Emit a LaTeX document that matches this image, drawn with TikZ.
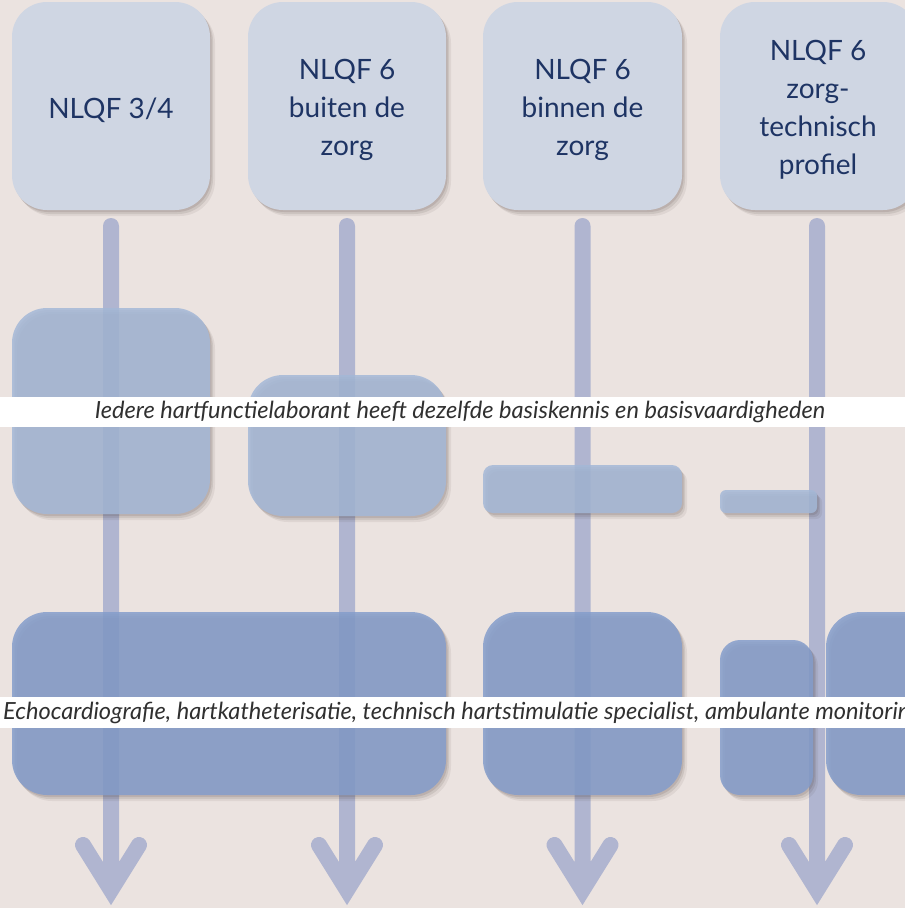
\documentclass[tikz,border=0pt]{standalone}
\usepackage{fontspec}
\setmainfont{Lato}
\usetikzlibrary{shadows,calc}
\definecolor{bg}{HTML}{EBE3E0}
\definecolor{topc}{HTML}{CFD6E3}
\definecolor{midc}{RGB}{164,184,215}
\definecolor{lowc}{RGB}{132,157,203}
\definecolor{arrc}{RGB}{176,181,208}
\definecolor{navy}{HTML}{1E3464}
\definecolor{bandtextc}{HTML}{303030}
\definecolor{shadowc}{HTML}{3A2A25}
\begin{document}
\begin{tikzpicture}[x=1pt,y=-1pt,
  softshadow/.style={
    drop shadow={shadow xshift=1.5pt,shadow yshift=-2pt,opacity=.12,fill=shadowc},
    drop shadow={shadow xshift=3pt,shadow yshift=-4pt,opacity=.10,fill=shadowc},
    drop shadow={shadow xshift=5pt,shadow yshift=-6pt,opacity=.07,fill=shadowc}},
  box/.style={softshadow, rounded corners=35pt, inner sep=0pt, outer sep=0pt, draw=none},
  topbox/.style={box, fill=topc},
  toptext/.style={text=navy, align=center, inner sep=0pt, font=\fontsize{28}{38}\selectfont},
  midbox/.style={box, fill=midc, fill opacity=.85},
  lowbox/.style={box, fill=lowc, fill opacity=.85},
  flowarrow/.style={draw=arrc, line width=16pt, line cap=round, line join=miter},
  band/.style={fill=white, inner sep=0pt, outer sep=0pt, minimum width=905pt},
  bandtext/.style={font=\itshape\fontsize{23.6}{25}\selectfont, text=bandtextc, inner sep=0pt}]
\useasboundingbox (0,0) rectangle (905,908);
\clip (0,0) rectangle (905,908);
\fill[bg] (0,0) rectangle (905,908);

% top boxes
\node[topbox, minimum width=198pt, minimum height=208pt] (t1) at (111,106) {};
\node[topbox, minimum width=198pt, minimum height=208pt] (t2) at (347,106) {};
\node[topbox, minimum width=199pt, minimum height=208pt] (t3) at (582.5,106) {};
\node[topbox, minimum width=198pt, minimum height=208pt] (t4) at (819,106) {};
\node[toptext] (t1l) at ($(t1)+(0,4)$) {NLQF 3/4};
\node[toptext] (t2l) at ($(t2)+(0,4)$) {NLQF 6\\buiten de\\zorg};
\node[toptext] (t3l) at ($(t3)+(0,4)$) {NLQF 6\\binnen de\\zorg};
\node[toptext] (t4l) at ($(t4)+(-1,4)$) {NLQF 6\\zorg-\\technisch\\profiel};

% arrow end points
\coordinate (e1) at ($(t1.south)+(0,680)$);
\coordinate (e2) at ($(t2.south)+(0,680)$);
\coordinate (e3) at ($(t3.south)+(0,680)$);
\coordinate (e4) at ($(t4.south)+(-2,680)$);

% arrows
\draw[flowarrow] ($(t1.south)+(0,16)$) -- (e1) ($(e1)+(-28,-45)$) -- (e1) -- ($(e1)+(28,-45)$);
\draw[flowarrow] ($(t2.south)+(0,16)$) -- (e2) ($(e2)+(-28,-45)$) -- (e2) -- ($(e2)+(28,-45)$);
\draw[flowarrow] ($(t3.south)+(0,16)$) -- (e3) ($(e3)+(-28,-45)$) -- (e3) -- ($(e3)+(28,-45)$);
\draw[flowarrow] ($(t4.south)+(-2,16)$) -- (e4) ($(e4)+(-28,-45)$) -- (e4) -- ($(e4)+(28,-45)$);

% middle boxes
\node[midbox, minimum width=198pt, minimum height=206pt] (m1) at (111,411) {};
\node[midbox, minimum width=198pt, minimum height=141pt] (m2) at (347,445.5) {};
\node[midbox, rounded corners=10pt, minimum width=199pt, minimum height=48pt] (m3) at (582.5,489) {};
\node[midbox, rounded corners=6pt, minimum width=97pt, minimum height=23pt] (m4) at (768.5,501.5) {};

% lower boxes
\node[lowbox, minimum width=434pt, minimum height=183pt] (l1) at (229,703.5) {};
\node[lowbox, minimum width=199pt, minimum height=183pt] (l2) at (582.5,703.5) {};
\node[lowbox, rounded corners=20pt, minimum width=93pt, minimum height=155pt] (l3) at (766.5,717.5) {};
\node[lowbox, minimum width=198pt, minimum height=183pt] (l4) at (925,703.5) {};

% text bands
\node[band, minimum height=30pt] (b1) at (452.5,412) {};
\node[bandtext] (b1t) at (460,412) {Iedere hartfunctielaborant heeft dezelfde basiskennis en basisvaardigheden};
\node[band, minimum height=31pt] (b2) at (452.5,712.5) {};
\node[bandtext, anchor=west] (b2t) at (3,713) {Echocardiografie, hartkatheterisatie, technisch hartstimulatie specialist, ambulante monitoring};
\end{tikzpicture}
\end{document}
